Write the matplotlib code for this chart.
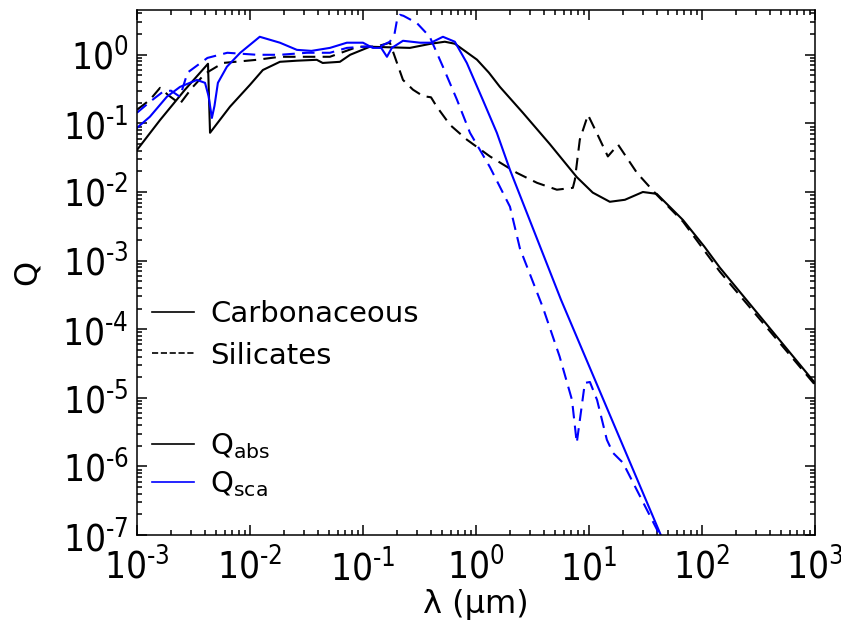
"""
Efektywnosci absorpcji i rozpraszania (Q) dla ziaren weglowych i krzemianowych
"""

import matplotlib
matplotlib.use("Agg")
import numpy as np
from matplotlib import pyplot as plt
from matplotlib import font_manager as fm
from matplotlib.lines import Line2D
from matplotlib.ticker import FixedLocator, LogLocator, FuncFormatter, NullFormatter

# =============================================================================
# DANE
# =============================================================================

# Carbonaceous, Q_abs
carb_abs_lam = [1.0e-3, 1.6e-3, 2.66e-3, 4.25e-3, 4.43e-3, 6.65e-3, 0.010, 0.013,
                0.0184, 0.026, 0.039, 0.044, 0.0625, 0.077, 0.115, 0.26, 0.40,
                0.53, 0.65, 1.02, 1.3, 1.63, 2.6, 4.5, 7.8, 10.8, 15.3, 20.8,
                30.0, 39.8, 68.0, 105.0, 144.0, 1000.0]
carb_abs_q = [0.041, 0.112, 0.31, 0.74, 0.073, 0.175, 0.365, 0.60,
              0.79, 0.82, 0.845, 0.76, 0.79, 1.0, 1.31, 1.26, 1.45,
              1.55, 1.45, 0.85, 0.55, 0.34, 0.143, 0.05, 0.0165, 0.0098, 0.0072, 0.0077,
              0.010, 0.0094, 0.0039, 0.0016, 7.9e-4, 1.65e-5]

# Silicates, Q_abs
sil_abs_lam = [1.0e-3, 1.3e-3, 1.6e-3, 1.88e-3, 2.4e-3, 3.07e-3, 4.0e-3, 5.76e-3,
               0.0115, 0.0184, 0.051, 0.09, 0.13, 0.173, 0.20, 0.226, 0.277,
               0.34, 0.40, 0.45, 0.59, 0.83, 1.33, 2.3, 3.47, 5.2, 7.2, 7.5,
               8.3, 9.8, 11.7, 14.7, 18.1, 26.6, 39.8, 68.0, 144.0, 1000.0]
sil_abs_q = [0.158, 0.22, 0.33, 0.26, 0.193, 0.33, 0.53, 0.76,
             0.845, 0.935, 0.935, 1.31, 1.31, 1.50, 0.76, 0.43, 0.31,
             0.25, 0.24, 0.175, 0.095, 0.058, 0.033, 0.019, 0.0136, 0.0108, 0.0115, 0.015,
             0.058, 0.133, 0.073, 0.033, 0.049, 0.019, 0.0091, 0.0037, 6.9e-4, 1.55e-5]

# Carbonaceous, Q_sca
carb_sca_lam = [1.0e-3, 1.3e-3, 1.84e-3, 2.4e-3, 3.39e-3, 4.0e-3, 4.3e-3, 4.6e-3,
                4.85e-3, 5.2e-3, 6.25e-3, 8.2e-3, 0.0122, 0.0184, 0.026, 0.035,
                0.051, 0.072, 0.10, 0.122, 0.145, 0.163, 0.18, 0.226, 0.32, 0.40,
                0.51, 0.65, 0.83, 1.15, 1.53, 2.0, 5.65, 42.5, 64.0]
carb_sca_q = [0.086, 0.125, 0.245, 0.34, 0.43, 0.39, 0.25, 0.12,
              0.18, 0.39, 0.67, 1.07, 1.83, 1.50, 1.18, 1.14,
              1.26, 1.5, 1.5, 1.26, 1.26, 0.935, 1.26, 1.6, 1.5, 1.5,
              1.83, 1.55, 0.76, 0.22, 0.073, 0.021, 2.7e-4, 1.07e-7, 2.2e-8]

# Silicates, Q_sca
sil_sca_lam = [1.0e-3, 1.3e-3, 1.7e-3, 2.0e-3, 2.4e-3, 2.8e-3, 4.2e-3, 6.3e-3,
               0.0115, 0.0184, 0.032, 0.051, 0.072, 0.10, 0.14, 0.173, 0.19,
               0.20, 0.212, 0.228, 0.30, 0.39, 0.51, 0.68, 0.885, 1.33, 2.0,
               2.45, 3.9, 5.5, 7.08, 7.8, 9.2, 10.2, 11.8, 14.4, 16.3, 20.0,
               40.0, 60.0]
sil_sca_q = [0.143, 0.206, 0.29, 0.30, 0.244, 0.55, 0.90, 1.07,
             1.0, 1.0, 1.07, 1.07, 1.26, 1.31, 1.31, 1.55, 2.0,
             3.2, 3.83, 3.7, 2.9, 1.83, 0.67, 0.22, 0.073, 0.023, 6.1e-3,
             1.5e-3, 2.1e-4, 4.0e-5, 9.3e-6, 2.2e-6, 1.65e-5, 1.7e-5, 9.3e-6, 2.45e-6, 1.58e-6, 1.13e-6,
             1.2e-7, 2.5e-8]

x_decades = [-3, -2, -1, 0, 1, 2, 3]
y_decades = [-7, -6, -5, -4, -3, -2, -1, 0]

legend_materials = ["Carbonaceous", "Silicates"]
legend_quantities = [r"Q$_{\rm abs}$", r"Q$_{\rm sca}$"]


def narrow_font():
    """Waska czcionka dla etykiet osi (jesli jest dostepna)"""
    fonts = fm.fontManager.ttflist
    for f in fonts:
        if f.name == "Liberation Sans Narrow" and f.style == "normal" and f.weight in (400, "normal", "regular"):
            return fm.FontProperties(fname=f.fname)
    for f in fonts:
        if f.name == "DejaVu Sans" and f.stretch in ("condensed", "semi-condensed") \
                and f.style == "normal" and f.weight in (400, "normal", "book"):
            return fm.FontProperties(fname=f.fname)
    return fm.FontProperties(family="DejaVu Sans")


def log_label(v, pos):
    e = int(round(np.log10(v)))
    s = str(e).replace("-", "\u2010")
    return r"$\mathdefault{10^{%s}}$" % s


# =============================================================================
# WYKRES
# =============================================================================

plt.rcParams["mathtext.fontset"] = "dejavusans"

fig = plt.figure(figsize=(8.41, 6.23), dpi=100)
ax = fig.add_axes([0.1629, 0.1412, 0.8061, 0.8428])

lw = 1.5
dash = (6, 3.5)
ax.plot(carb_abs_lam, carb_abs_q, color="k", lw=lw)
ax.plot(sil_abs_lam, sil_abs_q, color="k", lw=lw, ls=(0, dash))
ax.plot(carb_sca_lam, carb_sca_q, color="#0000ff", lw=lw)
ax.plot(sil_sca_lam, sil_sca_q, color="#0000ff", lw=lw, ls=(0, dash))

ax.set_xscale("log")
ax.set_yscale("log")
ax.set_xlim(1e-3, 1e3)
ax.set_ylim(1e-7, 4.5)

ax.xaxis.set_major_locator(FixedLocator([10.0 ** e for e in x_decades]))
ax.yaxis.set_major_locator(FixedLocator([10.0 ** e for e in y_decades]))
for axis in (ax.xaxis, ax.yaxis):
    axis.set_minor_locator(LogLocator(base=10, subs=np.arange(2, 10), numticks=100))
    axis.set_minor_formatter(NullFormatter())
    axis.set_major_formatter(FuncFormatter(log_label))

ax.tick_params(which="both", direction="in", top=True, right=True, width=1.1)
ax.tick_params(which="major", length=7.2, pad=6)
ax.tick_params(axis="x", which="major", pad=9.5)
ax.tick_params(which="minor", length=3.6)
for s in ax.spines.values():
    s.set_linewidth(1.1)

fp = narrow_font()
fp.set_size(26.5)
for lbl in ax.get_xticklabels() + ax.get_yticklabels():
    lbl.set_fontproperties(fp)

ax.set_xlabel("λ (μm)", fontsize=23)
ax.set_ylabel("Q", fontsize=23)
ax.xaxis.set_label_coords(0.5, -0.103)
ax.yaxis.set_label_coords(-0.139, 0.5)

# Legenda: materialy
h1 = [Line2D([], [], color="k", lw=1.2),
      Line2D([], [], color="k", lw=1.2, ls="--")]
leg1 = ax.legend(h1, legend_materials, loc="center left",
                 bbox_to_anchor=(0.022, 0.381), frameon=False, fontsize=21,
                 handlelength=1.45, handletextpad=0.55, labelspacing=0.45,
                 borderpad=0, borderaxespad=0)
ax.add_artist(leg1)

# Legenda: wielkosci
h2 = [Line2D([], [], color="k", lw=1.2),
      Line2D([], [], color="#0000ff", lw=1.2)]
ax.legend(h2, legend_quantities, loc="center left",
          bbox_to_anchor=(0.022, 0.133), frameon=False, fontsize=21,
          handlelength=1.45, handletextpad=0.55, labelspacing=0.3,
          borderpad=0, borderaxespad=0)

fig.savefig("out.png", dpi=100)
